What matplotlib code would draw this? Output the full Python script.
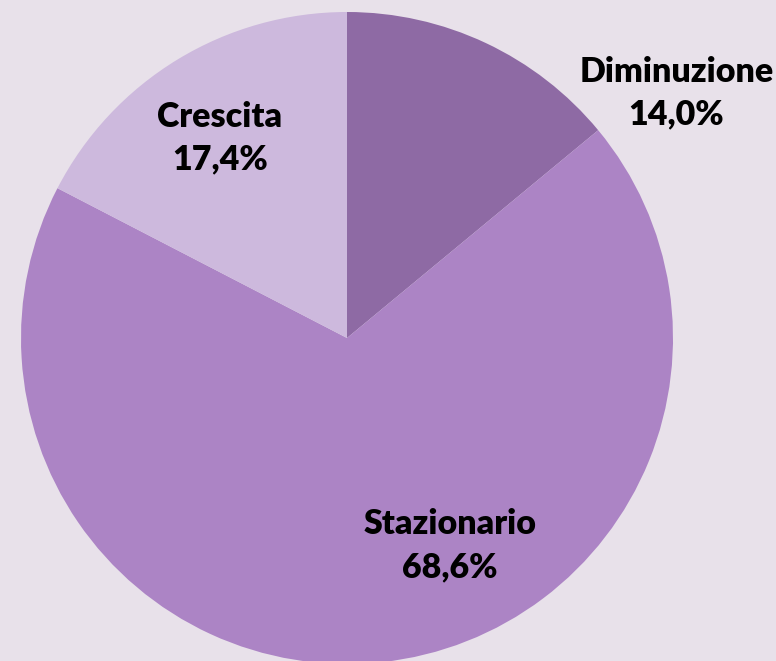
import matplotlib
matplotlib.use("Agg")
import matplotlib.pyplot as plt

# Dati
categorie = ['Diminuzione', 'Stazionario', 'Crescita']
percentuali = [14.0, 68.6, 17.4]
colori = ['#8E6AA4', '#AC84C5', '#CDB9DD']
sfondo = '#E8E1EA'

W, H = 776, 661
cx, cy, r = 347, 338, 326  # centro e raggio della torta in pixel

fig = plt.figure(figsize=(W / 100, H / 100), dpi=100, facecolor=sfondo)
ax = fig.add_axes([0, 0, 1, 1])
ax.set_facecolor(sfondo)

ax.pie(percentuali, colors=colori, startangle=90, counterclock=False,
       radius=1, wedgeprops=dict(linewidth=0))

ax.set_xlim(-cx / r, (W - cx) / r)
ax.set_ylim(-(H - cy) / r, cy / r)
ax.set_aspect('auto')
ax.axis('off')

# posizioni delle etichette (in unità del raggio)
pos_etichette = [(1.01, 0.752), (0.316, -0.637), (-0.39, 0.614)]
for nome, val, (x, y) in zip(categorie, percentuali, pos_etichette):
    testo = f"{nome}\n{val:.1f}%".replace('.', ',')
    ax.text(x, y, testo, ha='center', va='center', fontsize=24.5,
            fontweight='heavy', family='Lato', linespacing=1.4, color='black')

fig.savefig('out.png', dpi=100, facecolor=sfondo)
